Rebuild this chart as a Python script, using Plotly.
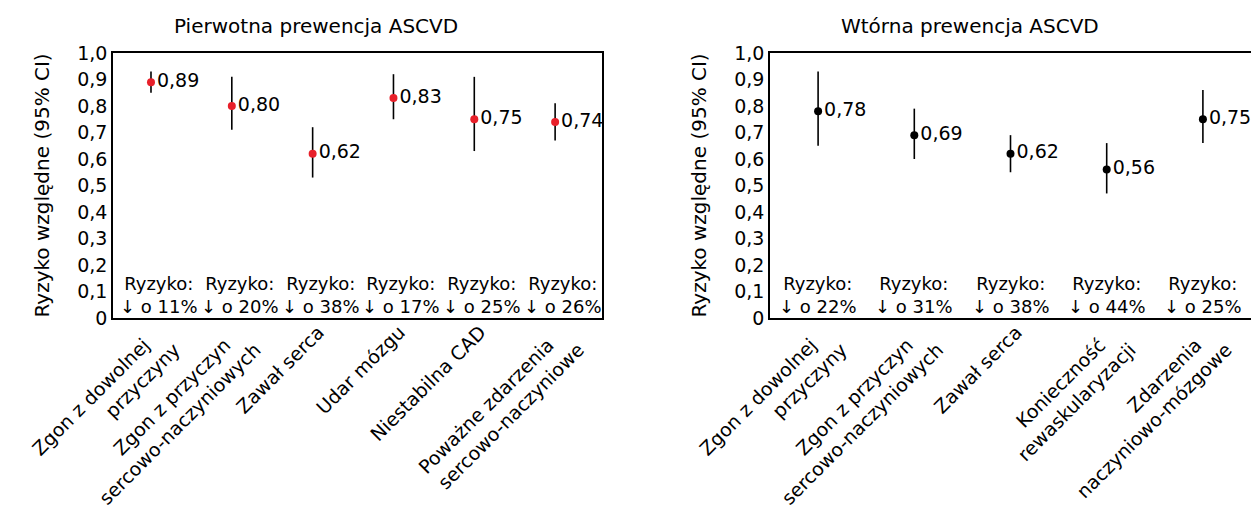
import plotly.graph_objects as go

W, H = 1251, 513
NB = "\u00a0\u00a0\u00a0"  # keeps the second line of a label offset like the original

# ---- data: primary prevention ----
cat_p = ["Zgon z dowolnej<br>przyczyny", "Zgon z przyczyn<br>sercowo-naczyniowych",
         "Zawał serca", "Udar mózgu", "Niestabilna CAD",
         "Poważne zdarzenia<br>sercowo-naczyniowe"]
rr_p = [0.89, 0.80, 0.62, 0.83, 0.75, 0.74]
lo_p = [0.85, 0.71, 0.53, 0.75, 0.63, 0.67]
hi_p = [0.93, 0.91, 0.72, 0.92, 0.91, 0.81]
red_p = [11, 20, 38, 17, 25, 26]

# ---- data: secondary prevention ----
cat_s = ["Zgon z dowolnej<br>przyczyny", "Zgon z przyczyn<br>sercowo-naczyniowych",
         "Zawał serca", "Konieczność<br>rewaskularyzacji",
         "Zdarzenia<br>naczyniowo-mózgowe"]
rr_s = [0.78, 0.69, 0.62, 0.56, 0.75]
lo_s = [0.65, 0.60, 0.55, 0.47, 0.66]
hi_s = [0.93, 0.79, 0.69, 0.66, 0.86]
red_s = [22, 31, 38, 44, 25]

yticks = [0, 0.1, 0.2, 0.3, 0.4, 0.5, 0.6, 0.7, 0.8, 0.9, 1.0]
yticktext = ["0", "0,1", "0,2", "0,3", "0,4", "0,5", "0,6", "0,7", "0,8", "0,9", "1,0"]

FONT = "DejaVu Sans"
fs = 19


def fmt(v):
    return f"{v:.2f}".replace(".", ",")


def catlabel(c):
    return c.replace("<br>", NB + "<br>")


fig = go.Figure()

panels = [
    dict(cats=cat_p, rr=rr_p, lo=lo_p, hi=hi_p, red=red_p, color="#e8202a",
         xa="x", ya="y", shift=8),
    dict(cats=cat_s, rr=rr_s, lo=lo_s, hi=hi_s, red=red_s, color="#000000",
         xa="x2", ya="y2", shift=0),
]

for p in panels:
    xs = list(range(len(p["cats"])))
    fig.add_trace(go.Scatter(
        x=xs, y=p["rr"], xaxis=p["xa"], yaxis=p["ya"],
        mode="markers+text",
        text=[fmt(v) for v in p["rr"]],
        textposition="middle right",
        textfont=dict(family=FONT, size=fs, color="black"),
        marker=dict(color=p["color"], size=8),
        error_y=dict(type="data", symmetric=False,
                     array=[h - v for h, v in zip(p["hi"], p["rr"])],
                     arrayminus=[v - l for l, v in zip(p["lo"], p["rr"])],
                     width=0, thickness=1.6, color="black"),
        showlegend=False, cliponaxis=False, hoverinfo="skip",
    ))
    for i, r in enumerate(p["red"]):
        fig.add_annotation(
            x=i, y=0.085, xref=p["xa"], yref=p["ya"], xshift=p["shift"],
            text=f"Ryzyko:<br>↓ o {r}%", showarrow=False,
            font=dict(family=FONT, size=18, color="black"),
            xanchor="center", yanchor="middle", align="center")

y0, y1 = 1 - 318 / H, 1 - 53 / H
axis_common = dict(showgrid=False, zeroline=False, ticks="", showline=True,
                   linecolor="black", linewidth=1.5, automargin=False)
xtick_common = dict(tickangle=-45, tickfont=dict(size=19),
                    ticklabelshift=6, ticklabelstandoff=-6)

fig.update_layout(
    width=W, height=H, margin=dict(l=0, r=0, t=0, b=0),
    plot_bgcolor="white", paper_bgcolor="white",
    font=dict(family=FONT, size=fs, color="black"),
    xaxis=dict(domain=[113 / W, 602 / W], range=[-0.47, 5.58], anchor="y",
               tickvals=list(range(len(cat_p))), ticktext=[catlabel(c) for c in cat_p],
               mirror=True, **xtick_common, **axis_common),
    yaxis=dict(domain=[y0, y1], range=[0, 1], anchor="x",
               tickvals=yticks, ticktext=yticktext, mirror=True, **axis_common),
    xaxis2=dict(domain=[770 / W, 1.0], range=[-0.5, 4.5], anchor="y2",
                tickvals=list(range(len(cat_s))), ticktext=[catlabel(c) for c in cat_s],
                mirror=True, **xtick_common, **axis_common),
    yaxis2=dict(domain=[y0, y1], range=[0, 1], anchor="x2",
                tickvals=yticks, ticktext=yticktext, mirror=False, **axis_common),
)

# titles
fig.add_annotation(x=316 / W, y=1 - 26 / H, xref="paper", yref="paper",
                   text="Pierwotna prewencja ASCVD", showarrow=False,
                   font=dict(family=FONT, size=20), xanchor="center", yanchor="middle")
fig.add_annotation(x=970 / W, y=1 - 26 / H, xref="paper", yref="paper",
                   text="Wtórna prewencja ASCVD", showarrow=False,
                   font=dict(family=FONT, size=20), xanchor="center", yanchor="middle")
# y titles
for xc in (41, 698):
    fig.add_annotation(x=xc / W, y=(y0 + y1) / 2, xref="paper", yref="paper",
                       text="Ryzyko względne (95% CI)", showarrow=False, textangle=-90,
                       font=dict(family=FONT, size=20), xanchor="center", yanchor="middle")

fig.write_html("out.html", config={"displayModeBar": False},
               post_script="document.body.style.margin='0';document.body.style.overflow='hidden';")
